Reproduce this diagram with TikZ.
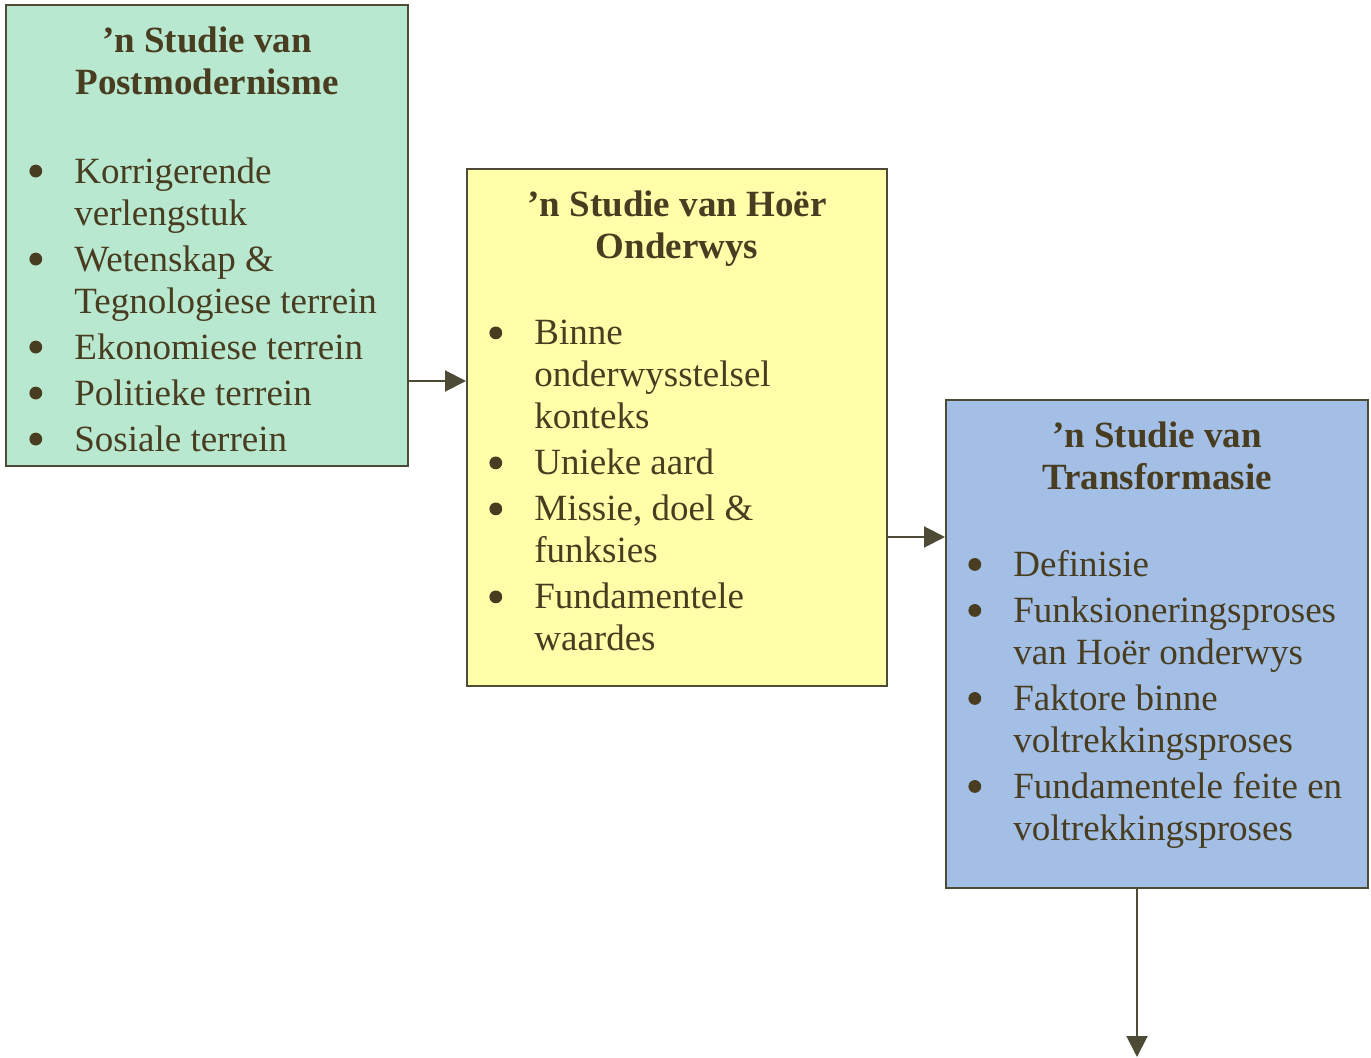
\documentclass[tikz,border=0pt]{standalone}
\usepackage{fontspec}
\setmainfont{Liberation Serif}
\usetikzlibrary{arrows.meta}
\usepackage{xcolor}
\definecolor{gr1}{HTML}{B9E8D0}
\definecolor{ye1}{HTML}{FFFFAA}
\definecolor{bl1}{HTML}{A3BFE6}
\definecolor{tx1}{HTML}{483D20}
\definecolor{ln1}{HTML}{4D4B36}

\newcommand{\bodyfont}{\fontsize{18.5pt}{21pt}\selectfont}
\newcommand{\dotb}{\tikz[baseline = -6pt] \fill [tx1] (0,0) circle (3.2pt);}
\newcommand{\itm}[1]{\makebox[22.5pt][l]{\dotb}#1}
\newcommand{\cnt}[1]{\hspace*{22.5pt}#1}

\tikzset{
	box/.style = {draw = ln1, line width = 1pt, anchor = north west, inner sep = 0pt},
	ttl/.style = {anchor = north, align = center, font = \bodyfont\bfseries,
		text = tx1, inner sep = 0pt},
	lst/.style = {anchor = north west, align = left, text = tx1, inner sep = 0pt},
	arr/.style = {draw = ln1, line width = 1pt, -{Triangle[length = 10.5pt, width = 10.5pt]}}
}

\begin{document}
\begin{tikzpicture} [x = 0.5pt, y = -0.5pt, font = \bodyfont]
\useasboundingbox (0,0) rectangle (1371,1058);

% boxes:
\node [box, fill = gr1, minimum width = 201pt, minimum height = 230.5pt] (post) at (5,4) {};
\node [box, fill = ye1, minimum width = 210pt, minimum height = 258.5pt] (hoer) at (466,168) {};
\node [box, fill = bl1, minimum width = 211pt, minimum height = 244pt] (trans) at (945,399) {};

% titles:
\node [ttl] (post-t) at ([shift = {(0,22)}]post.north) {’n Studie van\\Postmodernisme};
\node [ttl] (hoer-t) at ([shift = {(0,22)}]hoer.north) {’n Studie van Hoër\\Onderwys};
\node [ttl] (trans-t) at ([shift = {(0,22)}]trans.north) {’n Studie van\\Transformasie};

% lists:
\node [lst] (post-l) at ([shift = {(24,153)}]post.north west) {%
	\itm{Korrigerende}\\ \cnt{verlengstuk}\\[2pt]
	\itm{Wetenskap \&}\\ \cnt{Tegnologiese terrein}\\[2pt]
	\itm{Ekonomiese terrein}\\[2pt]
	\itm{Politieke terrein}\\[2pt]
	\itm{Sosiale terrein}};

\node [lst] (hoer-l) at ([shift = {(23,152)}]hoer.north west) {%
	\itm{Binne}\\ \cnt{onderwysstelsel}\\ \cnt{konteks}\\[2pt]
	\itm{Unieke aard}\\[2pt]
	\itm{Missie, doel \&}\\ \cnt{funksies}\\[2pt]
	\itm{Fundamentele}\\ \cnt{waardes}};

\node [lst] (trans-l) at ([shift = {(23,151)}]trans.north west) {%
	\itm{Definisie}\\[2pt]
	\itm{Funksioneringsproses}\\ \cnt{van Hoër onderwys}\\[2pt]
	\itm{Faktore binne}\\ \cnt{voltrekkingsproses}\\[2pt]
	\itm{Fundamentele feite en}\\ \cnt{voltrekkingsproses}};

% arrows:
\coordinate (r1) at (0,381);
\coordinate (r2) at (0,537);
\coordinate (end) at (1137,1057);
\draw [arr] (post.east |- r1) -- (hoer.west |- r1);
\draw [arr] (hoer.east |- r2) -- (trans.west |- r2);
\draw [arr] (trans.south -| end) -- (end);
\end{tikzpicture}
\end{document}
